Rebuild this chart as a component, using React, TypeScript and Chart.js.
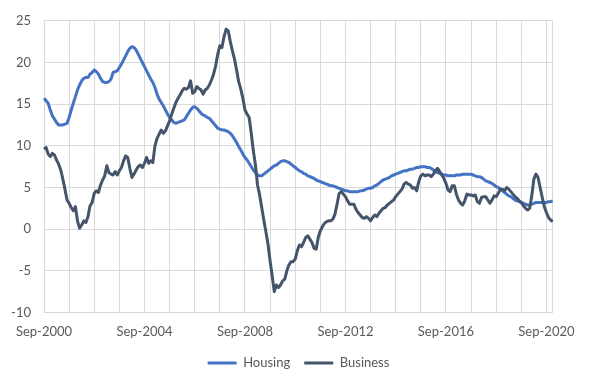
import React, { useEffect, useRef } from 'react';
import { Chart, registerables } from 'chart.js';

Chart.register(...registerables);

const MONTH_NAMES = ['Jan', 'Feb', 'Mar', 'Apr', 'May', 'Jun', 'Jul', 'Aug', 'Sep', 'Oct', 'Nov', 'Dec'];
const START_YEAR = 2000;
const START_MONTH = 8; // Sep
const MONTH_COUNT = 244; // Sep-2000 .. Dec-2020

const monthLabels: string[] = [];
for (let i = 0; i < MONTH_COUNT; i++) {
  const m = (START_MONTH + i) % 12;
  const y = START_YEAR + Math.floor((START_MONTH + i) / 12);
  monthLabels.push(`${MONTH_NAMES[m]}-${y}`);
}

const yTicks = [-10, -5, 0, 5, 10, 15, 20, 25];

const housing = [
  15.7, 15.4, 15.1, 14.3, 13.6, 13.2, 12.8, 12.5, 12.5, 12.5, 12.6, 12.7,
  13.4, 14.3, 15.1, 15.9, 16.7, 17.3, 17.8, 18.1, 18.2, 18.2, 18.6, 18.8,
  19.1, 18.9, 18.6, 18.1, 17.7, 17.6, 17.6, 17.7, 18.0, 18.8, 18.9, 19.0,
  19.4, 19.8, 20.3, 20.8, 21.3, 21.7, 21.9, 21.8, 21.5, 21.0, 20.5, 20.0,
  19.5, 19.0, 18.5, 18.0, 17.6, 17.0, 16.2, 15.6, 15.2, 14.8, 14.3, 13.8,
  13.4, 13.1, 12.8, 12.7, 12.8, 12.9, 13.0, 13.1, 13.5, 13.9, 14.3, 14.6,
  14.7, 14.5, 14.2, 13.9, 13.7, 13.6, 13.4, 13.3, 13.0, 12.7, 12.4, 12.1,
  12.0, 11.9, 11.9, 11.8, 11.7, 11.5, 11.2, 10.8, 10.4, 9.9, 9.5, 9.0,
  8.6, 8.3, 7.9, 7.5, 7.1, 6.8, 6.5, 6.4, 6.4, 6.6, 6.8, 7.0,
  7.2, 7.4, 7.6, 7.7, 7.9, 8.1, 8.2, 8.2, 8.1, 8.0, 7.8, 7.6,
  7.4, 7.2, 7.0, 6.9, 6.7, 6.6, 6.4, 6.3, 6.2, 6.1, 5.9, 5.8,
  5.7, 5.6, 5.5, 5.4, 5.3, 5.2, 5.2, 5.1, 5.0, 4.9, 4.8, 4.7,
  4.6, 4.6, 4.5, 4.5, 4.5, 4.5, 4.5, 4.6, 4.6, 4.7, 4.8, 4.9,
  4.9, 5.0, 5.2, 5.3, 5.5, 5.7, 5.9, 6.0, 6.1, 6.2, 6.4, 6.5,
  6.6, 6.7, 6.8, 6.9, 7.0, 7.0, 7.1, 7.2, 7.2, 7.3, 7.4, 7.4,
  7.5, 7.5, 7.5, 7.4, 7.4, 7.3, 7.1, 6.9, 6.8, 6.7, 6.6, 6.5,
  6.5, 6.4, 6.4, 6.4, 6.4, 6.5, 6.5, 6.5, 6.6, 6.6, 6.6, 6.6,
  6.6, 6.5, 6.4, 6.3, 6.3, 6.2, 6.0, 5.8, 5.7, 5.6, 5.5, 5.3,
  5.1, 5.0, 4.8, 4.6, 4.4, 4.2, 4.0, 3.9, 3.7, 3.5, 3.4, 3.3,
  3.2, 3.1, 3.0, 2.9, 2.9, 3.0, 3.1, 3.2, 3.2, 3.2, 3.2, 3.2,
  3.2, 3.3, 3.3, 3.4,
];

const business = [
  9.6, 9.8, 9.0, 8.7, 9.1, 8.9, 8.3, 7.8, 7.1, 6.0, 4.8, 3.5,
  3.1, 2.6, 2.2, 2.7, 1.0, 0.1, 0.5, 1.0, 0.8, 1.5, 2.8, 3.2,
  4.3, 4.6, 4.4, 5.3, 5.9, 6.4, 7.6, 6.8, 6.6, 6.5, 6.9, 6.5,
  7.0, 7.4, 8.2, 8.8, 8.6, 7.3, 6.2, 6.6, 7.1, 7.5, 7.7, 7.4,
  7.9, 8.6, 7.9, 8.2, 8.0, 10.0, 10.9, 11.4, 11.9, 11.5, 11.8, 12.4,
  13.0, 13.8, 14.5, 15.2, 15.7, 16.1, 16.6, 16.9, 16.8, 17.0, 17.8, 16.3,
  16.5, 17.1, 16.9, 16.7, 16.2, 16.7, 16.9, 17.3, 17.9, 18.6, 19.6, 21.0,
  22.0, 21.8, 23.1, 24.0, 23.8, 22.5, 21.4, 20.4, 19.1, 17.7, 16.8, 15.7,
  14.3, 13.8, 13.4, 11.5, 9.4, 7.7, 5.3, 4.1, 2.6, 1.1, -0.3, -1.8,
  -3.8, -5.6, -7.5, -6.7, -7.0, -6.7, -6.2, -6.0, -5.0, -4.3, -3.9, -3.9,
  -3.6, -2.6, -1.9, -2.1, -1.6, -1.0, -0.8, -1.2, -1.6, -2.3, -2.4, -1.0,
  -0.2, 0.3, 0.7, 0.9, 1.0, 1.0, 1.2, 1.8, 3.0, 4.3, 4.5, 4.2,
  3.9, 3.4, 3.0, 3.0, 3.0, 2.4, 2.0, 1.7, 1.4, 1.3, 1.5, 1.3,
  1.0, 1.4, 1.7, 1.5, 1.9, 2.2, 2.5, 2.6, 2.9, 3.1, 3.3, 3.5,
  3.9, 4.2, 4.5, 4.8, 5.4, 5.6, 5.4, 5.3, 4.9, 5.0, 4.6, 5.7,
  6.4, 6.6, 6.4, 6.5, 6.5, 6.3, 6.6, 7.0, 7.3, 6.9, 6.5, 6.1,
  5.5, 4.7, 4.5, 5.2, 5.2, 4.2, 3.5, 3.1, 2.9, 3.4, 4.2, 4.1,
  4.1, 4.0, 4.1, 3.3, 3.1, 3.8, 3.9, 3.9, 3.5, 3.1, 3.5, 4.0,
  3.9, 4.3, 4.8, 4.8, 4.6, 5.0, 4.8, 4.5, 4.2, 3.9, 3.7, 3.4,
  3.2, 2.8, 2.5, 2.3, 2.5, 4.0, 6.0, 6.6, 6.2, 5.0, 3.8, 2.7,
  2.0, 1.4, 1.1, 0.9,
];

const HOUSING_COLOR = '#4472C4';
const BUSINESS_COLOR = '#44546A';
const GRID_COLOR = '#D9D9D9';
const TEXT_COLOR = '#595959';
const FONT = { family: 'Lato, "Open Sans", sans-serif', size: 13 };

export default function App() {
  const canvasRef = useRef<HTMLCanvasElement | null>(null);

  useEffect(() => {
    if (!canvasRef.current) return;
    const chart = new Chart(canvasRef.current, {
      type: 'line',
      data: {
        labels: monthLabels,
        datasets: [
          {
            label: 'Housing',
            data: housing,
            borderColor: HOUSING_COLOR,
            backgroundColor: HOUSING_COLOR,
            borderWidth: 3,
            pointRadius: 0,
            tension: 0,
            fill: false,
            borderJoinStyle: 'round',
            order: 1,
          },
          {
            label: 'Business',
            data: business,
            borderColor: BUSINESS_COLOR,
            backgroundColor: BUSINESS_COLOR,
            borderWidth: 3,
            pointRadius: 0,
            tension: 0,
            fill: false,
            borderJoinStyle: 'round',
            order: 0,
          },
        ],
      },
      options: {
        responsive: false,
        animation: false,
        layout: { padding: { left: 0, right: 0, top: 16, bottom: 5.5 } },
        plugins: {
          tooltip: { enabled: false },
          legend: {
            position: 'bottom',
            labels: {
              boxWidth: 29,
              boxHeight: 3,
              padding: 14,
              color: TEXT_COLOR,
              font: FONT,
              generateLabels: (c: any) =>
                c.data.datasets.map((ds: any, i: number) => ({
                  text: ds.label,
                  fillStyle: ds.borderColor,
                  strokeStyle: ds.borderColor,
                  lineWidth: 0,
                  hidden: false,
                  datasetIndex: i,
                  fontColor: TEXT_COLOR,
                })),
            },
          },
        },
        scales: {
          x: {
            type: 'category',
            grid: {
              color: (ctx: any) =>
                ctx.index % 12 === 0 || ctx.index === MONTH_COUNT - 1 ? GRID_COLOR : 'rgba(0,0,0,0)',
              lineWidth: 1,
              drawTicks: false,
            },
            border: { color: GRID_COLOR },
            ticks: {
              autoSkip: false,
              maxRotation: 0,
              minRotation: 0,
              padding: 12,
              color: TEXT_COLOR,
              font: FONT,
              callback: (_v: any, i: number) => (i % 48 === 0 ? monthLabels[i] : ''),
            },
            afterFit: (s: any) => {
              s.height = 30;
            },
          },
          y: {
            min: yTicks[0],
            max: yTicks[yTicks.length - 1],
            afterBuildTicks: (s: any) => {
              s.ticks = yTicks.map((v) => ({ value: v }));
            },
            grid: { color: GRID_COLOR, lineWidth: 1, drawTicks: false },
            border: { color: GRID_COLOR },
            ticks: { padding: 13, color: TEXT_COLOR, font: FONT },
            afterFit: (s: any) => {
              s.width = 44;
            },
          },
          yRight: {
            position: 'right',
            display: true,
            grid: { display: false, drawTicks: false },
            border: { display: false },
            ticks: { display: false },
            afterFit: (s: any) => {
              s.width = 44.3;
            },
          },
        },
      },
    } as any);
    return () => chart.destroy();
  }, []);

  return (
    <div style={{ position: 'fixed', left: 0, top: 0, width: 597, height: 385, background: '#fff' }}>
      <canvas ref={canvasRef} width={597} height={385} style={{ width: 597, height: 385 }} />
    </div>
  );
}
